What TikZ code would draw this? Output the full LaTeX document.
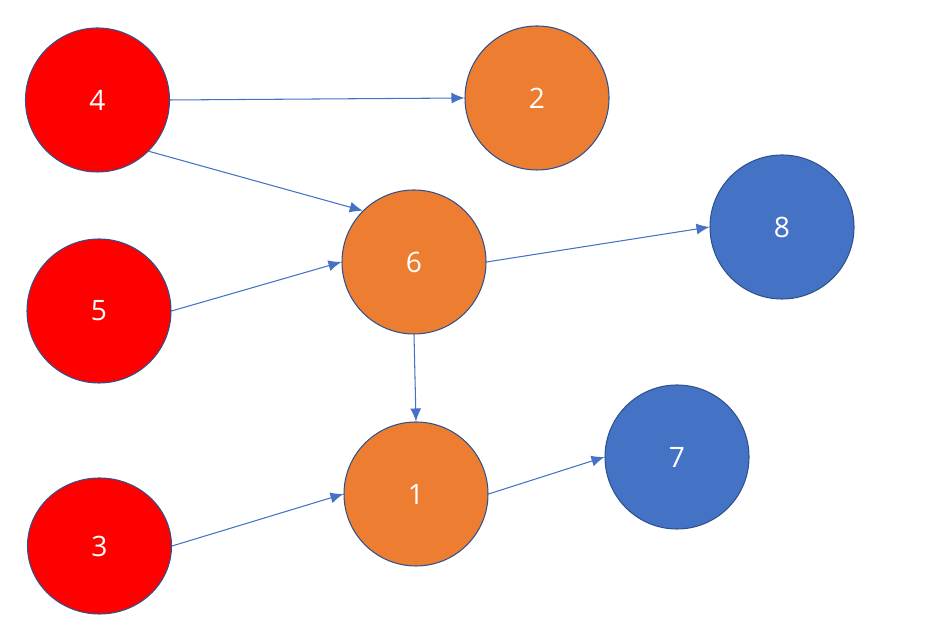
\documentclass[tikz,border=0pt]{standalone}
\usepackage{fontspec}
\setmainfont{Open Sans}
\usepackage{xcolor}
\usetikzlibrary{arrows.meta, shapes.geometric}

\definecolor{srcred}{HTML}{FF0000}
\definecolor{midorange}{HTML}{ED7D31}
\definecolor{sinkblue}{HTML}{4472C4}
\definecolor{rimblue}{HTML}{2F528F}
\definecolor{linkblue}{HTML}{4472C4}

\begin{document}
\begin{tikzpicture}[
  vertex/.style={circle, draw=rimblue, line width=0.6pt, minimum size=2.88cm,
                 inner sep=0pt, text=white, font=\fontsize{16}{19}\selectfont},
  flatvertex/.style={vertex, ellipse, minimum width=2.88cm,
                     minimum height=2.72cm},
  link/.style={draw=linkblue, line width=0.6pt,
               -{Latex[length=2.6mm, width=2.2mm]}},
]
  % Canvas
  \useasboundingbox (0, 0) rectangle (18.8, 12.68);

  % Source vertices
  \node[vertex, fill=srcred] (n4) at (1.95, 10.68) {4};
  \node[vertex, fill=srcred] (n5) at (1.98, 6.46) {5};
  \node[flatvertex, fill=srcred] (n3) at (1.99, 1.76) {3};

  % Middle vertices
  \node[vertex, fill=midorange] (n2) at (10.74, 10.72) {2};
  \node[vertex, fill=midorange] (n6) at (8.28, 7.44) {6};
  \node[vertex, fill=midorange] (n1) at (8.32, 2.80) {1};

  % Sink vertices
  \node[vertex, fill=sinkblue] (n8) at (15.64, 8.14) {8};
  \node[vertex, fill=sinkblue] (n7) at (13.54, 3.54) {7};

  % Edges
  \draw[link] (n4.east) -- (n2.west);
  \draw[link] (n4.-45) -- (n6.135);
  \draw[link] (n5.east) -- (n6.west);
  \draw[link] (n6.east) -- (n8.west);
  \draw[link] (n6.south) -- (n1.north);
  \draw[link] (n3.east) -- (n1.west);
  \draw[link] (n1.east) -- (n7.west);

\end{tikzpicture}
\end{document}
